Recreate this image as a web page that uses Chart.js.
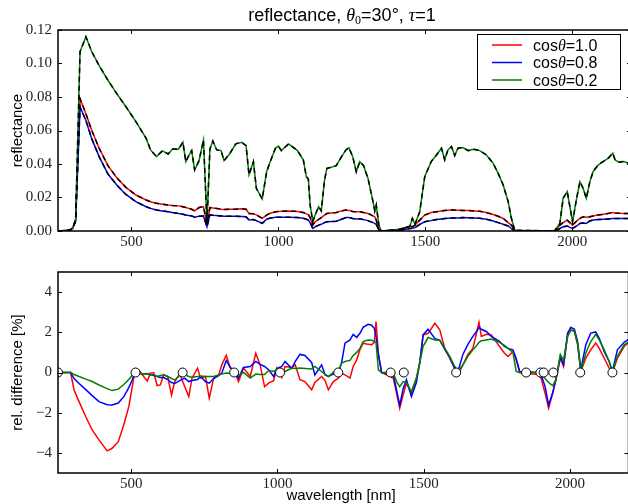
<!DOCTYPE html>
<html>
<head>
<meta charset="utf-8">
<script src="https://cdn.jsdelivr.net/npm/chart.js@4.4.1/dist/chart.umd.min.js"></script>
<style>
html, body { margin: 0; padding: 0; background: #fff; overflow: hidden; width: 628px; height: 504px; }
#wrap { position: relative; width: 634px; height: 504px; }
canvas { position: absolute; left: 0; }
#top { top: 0; }
#bottom { top: 252px; }
</style>
</head>
<body>
<div id="wrap">
  <canvas id="top" width="634" height="252"></canvas>
  <canvas id="bottom" width="634" height="252"></canvas>
</div>
<script>
// wavelengths (nm) for the reflectance panel
var wavelength = [250,290,300,310,325,345,365,390,420,450,
  480,515,550,565,585,605,625,640,660,675,
  685,695,705,715,730,745,757,767,777,790,
  805,815,835,855,875,890,900,915,925,945,
  960,970,990,1000,1010,1035,1065,1085,1095,1102,
  1108,1117,1125,1137,1146,1157,1165,1180,1197,1215,
  1230,1240,1253,1265,1277,1290,1305,1322,1328,1333,
  1342,1350,1410,1447,1456,1465,1481,1498,1520,1538,
  1555,1566,1577,1589,1600,1611,1628,1646,1665,1685,
  1708,1731,1748,1765,1782,1793,1805,1940,1958,1969,
  1983,1992,2001,2015,2026,2037,2048,2060,2071,2088,
  2105,2122,2138,2146,2160,2175,2200];

var reflCos10 = [0,0.0005,0.0015,0.006,0.079,0.070,0.060,0.0494,0.039,0.0318,
  0.0262,0.0215,0.0185,0.0175,0.0165,0.016,0.0155,0.0152,0.015,0.0145,
  0.014,0.0135,0.013,0.012,0.014,0.0145,0.0046,0.014,0.0138,0.0135,
  0.013,0.0128,0.013,0.013,0.0133,0.013,0.0105,0.0103,0.0096,0.0076,
  0.0095,0.0105,0.0115,0.0117,0.0118,0.0119,0.0117,0.011,0.0102,0.0098,
  0.008,0.0036,0.0055,0.007,0.008,0.0095,0.0105,0.0108,0.011,0.012,
  0.0125,0.0123,0.0117,0.0115,0.0115,0.011,0.0105,0.009,0.0085,0.0065,
  0.001,0,0.0005,0.003,0.0025,0.0035,0.0065,0.0095,0.011,0.0115,
  0.012,0.0122,0.0124,0.0125,0.0125,0.0124,0.0123,0.0122,0.012,0.0118,
  0.011,0.0098,0.0088,0.0075,0.005,0.0035,0.0005,0,0.0035,0.005,
  0.0065,0.005,0.0035,0.006,0.0075,0.0085,0.0082,0.0085,0.009,0.0095,
  0.01,0.0105,0.011,0.0108,0.0106,0.0105,0.0105];

var reflCos08 = [0,0.0005,0.0015,0.006,0.074,0.066,0.055,0.0444,0.034,0.0275,
  0.022,0.0175,0.0145,0.0135,0.0125,0.012,0.0115,0.011,0.0105,0.010,
  0.0096,0.0093,0.009,0.0082,0.0088,0.009,0.0025,0.0096,0.0094,0.0092,
  0.009,0.0088,0.0088,0.0088,0.0087,0.0085,0.0066,0.0068,0.0062,0.0046,
  0.007,0.0076,0.0082,0.0082,0.0082,0.0082,0.008,0.0076,0.007,0.0066,
  0.005,0.0016,0.0025,0.0035,0.004,0.005,0.0055,0.0057,0.0058,0.007,
  0.008,0.008,0.0075,0.0072,0.0073,0.0068,0.0062,0.005,0.0046,0.004,
  0.0005,0,0.0002,0.0015,0.0017,0.002,0.004,0.0055,0.0062,0.0068,
  0.0072,0.0074,0.0076,0.0077,0.0078,0.0078,0.008,0.0079,0.0078,0.0076,
  0.007,0.006,0.005,0.004,0.003,0.0015,0,0,0.0015,0.0025,
  0.003,0.0022,0.0015,0.003,0.0045,0.0048,0.0045,0.006,0.0066,0.0068,
  0.007,0.0072,0.0074,0.0074,0.0075,0.0075,0.0075];

var reflCos02 = [0,0.0005,0.002,0.007,0.107,0.116,0.107,0.0987,0.090,0.082,
  0.0745,0.0653,0.0553,0.0484,0.0444,0.0478,0.046,0.049,0.0488,0.053,
  0.0414,0.045,0.048,0.0364,0.042,0.0543,0.005,0.049,0.0537,0.0484,
  0.048,0.042,0.0463,0.052,0.053,0.051,0.0336,0.0414,0.0255,0.0191,
  0.0354,0.0404,0.0494,0.0507,0.048,0.052,0.048,0.0424,0.0324,0.031,
  0.0155,0.0056,0.0095,0.0145,0.012,0.0304,0.0374,0.038,0.039,0.0444,
  0.0484,0.0498,0.0444,0.0354,0.0414,0.039,0.0314,0.0175,0.012,0.0155,
  0.0036,0,0.001,0.0026,0.0075,0.004,0.0115,0.0324,0.0414,0.0454,
  0.0494,0.0424,0.0484,0.0504,0.045,0.0494,0.0498,0.048,0.0488,0.048,
  0.0454,0.0404,0.0344,0.0275,0.0175,0.0076,0,0,0.0046,0.0195,
  0.0235,0.0145,0.0056,0.0195,0.0294,0.0255,0.0195,0.0294,0.0354,0.0394,
  0.0414,0.0434,0.0464,0.0424,0.041,0.0415,0.040];

// wavelengths (nm) for the relative difference panel
var diffWavelength = [250,293,305,322,345,367,390,418,435,456,
  475,492,503,512,526,543,555,566,577,589,
  600,611,625,638,649,666,683,697,708,727,
  737,754,767,782,799,810,825,839,852,867,
  884,907,926,941,956,970,987,998,1015,1026,
  1049,1061,1077,1094,1117,1128,1151,1163,1174,1191,
  1208,1219,1231,1248,1259,1271,1282,1293,1310,1322,
  1331,1337,1345,1356,1396,1407,1418,1430,1441,1458,
  1475,1487,1498,1515,1538,1555,1572,1589,1606,1617,
  1634,1651,1668,1679,1689,1697,1714,1731,1759,1776,
  1788,1805,1816,1828,1890,1901,1915,1927,1941,1952,
  1967,1978,1992,2003,2015,2026,2037,2054,2071,2088,
  2100,2117,2134,2145,2162,2185,2200];

var diffCos10 = [0,0,-0.87,-1.45,-2.2,-2.86,-3.35,-3.9,-3.77,-3.44,
  -2.6,-1.7,-0.78,0,0.13,-0.2,-0.42,-0.03,0,-0.65,
  -0.62,-0.1,-0.2,-1.12,-0.45,-0.08,-0.7,-1.2,-0.28,0.22,
  -0.28,-0.2,-1.28,-0.28,-0.12,0.38,0.86,0.22,0.1,-0.45,
  0.22,-0.2,0.96,0.38,-0.7,-0.53,-0.41,0.22,-0.25,0.3,
  0.25,0.38,-0.36,-0.45,-0.86,-0.5,-0.2,-0.4,-0.86,-0.45,
  -0.28,-0.05,-0.12,-0.28,0.3,0.63,1.13,1.46,1.4,1.38,
  1.5,2.54,0.96,0,-0.28,-1.03,-1.78,-1.1,-0.53,-1.03,
  -0.3,0.5,1.87,1.95,2.45,2.12,1.2,0.71,0.22,-0.12,
  0.38,0.9,1.2,1.87,2.5,1.79,1.9,1.87,1.3,0.96,
  0.8,1.04,0.63,0,-0.1,-0.28,-1.03,-1.78,-1.03,-0.36,
  0.71,0.3,1.87,2.12,2.04,1.38,0.05,0.71,1.13,1.46,
  1.2,0.71,0.22,0,0.71,1.29,1.5];

var diffCos08 = [0,0,-0.3,-0.55,-0.85,-1.15,-1.45,-1.6,-1.62,-1.52,
  -1.2,-0.75,-0.4,0,-0.05,-0.08,-0.05,-0.1,-0.15,-0.2,
  -0.25,-0.25,-0.35,-0.5,-0.55,-0.4,-0.28,-0.45,-0.4,-0.35,
  -0.2,-0.45,-0.53,-0.3,-0.15,-0.03,0.6,0.25,0.1,-0.28,
  0.25,0.3,0.55,0.4,0.3,0.14,-0.2,0.2,0.3,0.55,
  0.2,0.55,0.9,0.85,0.5,-0.12,0.38,-0.12,-0.2,-0.08,
  0,0.46,1.46,1.62,1.9,1.75,1.95,2.25,2.4,2.35,
  2.2,1.8,0.9,0,-0.08,-0.86,-1.62,-0.8,-0.36,-1.2,
  -0.5,0.55,1.87,2.15,1.7,1.6,1.15,0.75,0.2,0.05,
  0.9,1.4,1.8,2.0,2.25,2.15,2.04,1.8,1.55,1.3,
  1.2,1.13,0.7,0.05,0,-0.1,-0.7,-1.62,-1.0,-0.3,
  0.8,0.4,1.96,2.25,2.15,1.55,0.13,1.38,1.96,2.02,
  1.7,1.04,0.55,0.05,1.13,1.5,1.65];

var diffCos02 = [0,0,-0.1,-0.2,-0.33,-0.45,-0.62,-0.8,-0.9,-0.83,
  -0.6,-0.35,-0.15,0,-0.03,-0.08,-0.06,-0.12,-0.1,-0.2,
  -0.15,-0.12,-0.2,-0.3,-0.37,-0.15,-0.1,-0.2,-0.23,-0.2,
  -0.18,-0.2,-0.2,-0.2,-0.12,-0.08,-0.03,-0.05,-0.1,-0.15,
  0,-0.28,-0.08,-0.1,-0.1,0.1,0.05,0.14,-0.05,0.05,
  0.22,0.2,0.22,0.2,0.18,0.3,0.05,-0.1,-0.2,0,
  0.05,0.46,0.55,0.6,0.85,1.0,1.2,1.54,1.62,1.6,
  1.55,1.5,0.13,0,0,-0.45,-0.7,-0.45,-0.5,-0.95,
  -0.28,0.5,1.3,1.74,1.62,1.6,1.2,0.8,0.3,0.05,
  0.38,0.8,1.13,1.3,1.5,1.58,1.62,1.66,1.5,1.35,
  1.2,1.0,0.05,0,0,-0.1,-0.3,-0.5,-0.65,-0.36,
  0.9,0.6,1.79,2.12,2.05,1.46,0.05,0.96,1.54,1.9,
  1.62,1.13,0.55,0.02,0.8,1.38,1.5];

// nodes where the difference is zero (open circles)
var nodeWavelength = [250,515,676,852,1009,1208,1387,1432,1611,1850,1899,1910,1943,2035,2145];

var seriesNames = ['1.0', '0.8', '0.2'];
var seriesColors = ['#ff0000', '#0000ff', '#008000'];
var xTicks = [500, 1000, 1500, 2000];
var reflTicks = [0, 0.02, 0.04, 0.06, 0.08, 0.10, 0.12];
var diffTicks = [-4, -2, 0, 2, 4];

var SANS = '"Liberation Sans", Arial, sans-serif';
var SERIF = '"Liberation Serif", "Times New Roman", serif';

function pts(xs, ys) {
    return xs.map(function (x, i) { return { x: x, y: ys[i] }; });
}

// draw a line of mixed-font text centred on cx
function drawRuns(ctx, runs, x, y, align) {
    var total = 0;
    runs.forEach(function (r) { ctx.font = r.font; total += ctx.measureText(r.text).width; });
    var cx = align === 'left' ? x : x - total / 2;
    ctx.textBaseline = 'alphabetic';
    ctx.textAlign = 'left';
    runs.forEach(function (r) {
        ctx.font = r.font;
        ctx.fillText(r.text, cx, y + (r.dy || 0));
        cx += ctx.measureText(r.text).width;
    });
}

function legendRuns(name) {
    return [
        { text: 'cos', font: '16px ' + SANS },
        { text: 'θ', font: 'italic 16px ' + SERIF },
        { text: '=' + name, font: '16px ' + SANS }
    ];
}

// frame plus inward ticks on all four sides
var frameTicks = {
    id: 'frameTicks',
    afterDatasetsDraw: function (chart) {
        var ctx = chart.ctx, a = chart.chartArea;
        var xs = chart.scales.x, ys = chart.scales.y;
        ctx.save();
        ctx.strokeStyle = '#000';
        ctx.lineWidth = 1;
        ctx.beginPath();
        xs.ticks.forEach(function (t) {
            var px = Math.round(xs.getPixelForValue(t.value)) + 0.5;
            ctx.moveTo(px, a.bottom); ctx.lineTo(px, a.bottom - 4);
            ctx.moveTo(px, a.top); ctx.lineTo(px, a.top + 4);
        });
        ys.ticks.forEach(function (t) {
            var py = Math.round(ys.getPixelForValue(t.value)) + 0.5;
            ctx.moveTo(a.left, py); ctx.lineTo(a.left + 4, py);
            ctx.moveTo(a.right, py); ctx.lineTo(a.right - 4, py);
        });
        ctx.stroke();
        ctx.lineWidth = 1.5;
        ctx.strokeRect(a.left, a.top, a.right - a.left, a.bottom - a.top);
        ctx.restore();
    }
};

var topDecor = {
    id: 'topDecor',
    afterDraw: function (chart) {
        var ctx = chart.ctx;
        ctx.save();
        ctx.fillStyle = '#000';
        // title
        drawRuns(ctx, [
            { text: 'reflectance, ', font: '18px ' + SANS },
            { text: 'θ', font: 'italic 18px ' + SERIF },
            { text: '0', font: '12px ' + SERIF, dy: 3 },
            { text: '=30°, ', font: '18px ' + SANS },
            { text: 'τ', font: 'italic 18px ' + SERIF },
            { text: '=1', font: '18px ' + SANS }
        ], 342, 20.5);
        // y label
        ctx.save();
        ctx.translate(21.5, 130.5);
        ctx.rotate(-Math.PI / 2);
        ctx.font = '15px ' + SANS;
        ctx.textAlign = 'center';
        ctx.textBaseline = 'alphabetic';
        ctx.fillText('reflectance', 0, 0);
        ctx.restore();
        // legend
        ctx.fillStyle = '#fff';
        ctx.fillRect(477.5, 34.5, 143, 55);
        ctx.strokeStyle = '#000';
        ctx.lineWidth = 1;
        ctx.strokeRect(477.5, 34.5, 143, 55);
        var rows = [45, 62.5, 80];
        seriesNames.forEach(function (name, i) {
            ctx.strokeStyle = seriesColors[i];
            ctx.lineWidth = 1.5;
            ctx.beginPath();
            ctx.moveTo(492, rows[i]);
            ctx.lineTo(522, rows[i]);
            ctx.stroke();
            ctx.fillStyle = '#000';
            drawRuns(ctx, legendRuns(name), 533, rows[i] + 5.8, 'left');
        });
        ctx.restore();
    }
};

var bottomDecor = {
    id: 'bottomDecor',
    afterDraw: function (chart) {
        var ctx = chart.ctx;
        ctx.save();
        ctx.fillStyle = '#000';
        ctx.font = '15px ' + SANS;
        ctx.textAlign = 'center';
        ctx.textBaseline = 'alphabetic';
        ctx.fillText('wavelength [nm]', 341, 248);
        ctx.translate(21.5, 120.5);
        ctx.rotate(-Math.PI / 2);
        ctx.fillText('rel. difference [%]', 0, 0);
        ctx.restore();
    }
};

function xScale(axisHeight) {
    return {
        type: 'linear',
        min: 250,
        max: 2200,
        afterBuildTicks: function (s) { s.ticks = xTicks.map(function (v) { return { value: v }; }); },
        afterFit: function (s) { s.height = axisHeight; },
        grid: { display: false, drawTicks: false },
        border: { display: false },
        ticks: {
            padding: 2,
            maxRotation: 0,
            autoSkip: false,
            color: '#222',
            font: { family: SERIF, size: 15 },
            callback: function (v) { return String(v); }
        }
    };
}

function yScale(min, max, tickValues, fmt) {
    return {
        type: 'linear',
        min: min,
        max: max,
        afterBuildTicks: function (s) { s.ticks = tickValues.map(function (v) { return { value: v }; }); },
        afterFit: function (s) { s.width = 58; },
        grid: { display: false, drawTicks: false },
        border: { display: false },
        ticks: {
            padding: 6,
            autoSkip: false,
            color: '#222',
            font: { family: SERIF, size: 15 },
            callback: fmt
        }
    };
}

var reflSeries = [reflCos10, reflCos08, reflCos02];
var topSets = [];
reflSeries.forEach(function (vals, i) {
    topSets.push({
        data: pts(wavelength, vals),
        borderColor: '#000',
        borderWidth: 1.5,
        borderDash: [5, 4],
        pointRadius: 0,
        order: 0
    });
});
reflSeries.forEach(function (vals, i) {
    topSets.push({
        data: pts(wavelength, vals),
        borderColor: seriesColors[i],
        borderWidth: 1.5,
        pointRadius: 0,
        order: 3 - i
    });
});

new Chart(document.getElementById('top').getContext('2d'), {
    type: 'line',
    data: { datasets: topSets },
    options: {
        responsive: false,
        animation: false,
        layout: { padding: { top: 30, right: 3, left: 0, bottom: 0 } },
        plugins: { legend: { display: false }, tooltip: { enabled: false }, title: { display: false } },
        scales: {
            x: xScale(21),
            y: yScale(0, 0.12, reflTicks, function (v) { return v.toFixed(2); })
        }
    },
    plugins: [frameTicks, topDecor]
});

var diffSeries = [diffCos10, diffCos08, diffCos02];
var bottomSets = diffSeries.map(function (vals, i) {
    return {
        data: pts(diffWavelength, vals),
        borderColor: seriesColors[i],
        borderWidth: 1.5,
        pointRadius: 0,
        order: 3 - i
    };
});
bottomSets.push({
    data: nodeWavelength.map(function (w) { return { x: w, y: 0 }; }),
    showLine: false,
    pointRadius: 4.5,
    pointBackgroundColor: '#fff',
    pointBorderColor: '#000',
    pointBorderWidth: 1,
    order: 0
});

new Chart(document.getElementById('bottom').getContext('2d'), {
    type: 'line',
    data: { datasets: bottomSets },
    options: {
        responsive: false,
        animation: false,
        layout: { padding: { top: 20, right: 3, left: 0, bottom: 0 } },
        plugins: { legend: { display: false }, tooltip: { enabled: false }, title: { display: false } },
        scales: {
            x: xScale(31),
            y: yScale(-5, 5, diffTicks, function (v) { return String(v).replace('-', '\u2212'); })
        }
    },
    plugins: [frameTicks, bottomDecor]
});
</script>
</body>
</html>
